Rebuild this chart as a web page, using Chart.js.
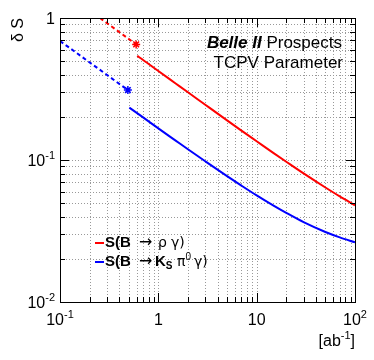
<!DOCTYPE html>
<html><head><meta charset="utf-8">
<script src="https://cdn.jsdelivr.net/npm/chart.js@4/dist/chart.umd.min.js"></script>
<style>html,body{margin:0;padding:0;background:#fff}</style>
</head><body>
<canvas id="c" width="374" height="360"></canvas>
<script>
// ---- data ----
const lumiRho      = [0.61, 0.7, 1, 1.5, 2, 3, 5, 7, 10, 15, 20, 30, 50, 70, 100];
const dSRho        = [0.541, 0.506, 0.423, 0.346, 0.300, 0.245, 0.190, 0.161, 0.1355, 0.1114, 0.0972, 0.0804, 0.0640, 0.0554, 0.048];
const lumiRhoNow   = [0.255, 0.595];
const dSRhoNow     = [1.0, 0.652];

const lumiKs       = [0.507, 0.7, 1, 1.5, 2, 3, 5, 7, 10, 15, 20, 30, 50, 70, 100];
const dSKs         = [0.234, 0.1995, 0.167, 0.137, 0.119, 0.098, 0.077, 0.066, 0.0563, 0.0475, 0.0424, 0.0365, 0.0311, 0.0285, 0.0263];
const lumiKsNow    = [0.1, 0.49];
const dSKsNow      = [0.689, 0.311];

const xMajor       = [0.1, 1, 10, 100];
const xTickLabels  = [['10','-1'], ['1',''], ['10',''], ['10','2']];
const yMajor       = [0.01, 0.1, 1];
const yTickLabels  = [['10','-2'], ['10','-1'], ['1','']];
const xTitle       = ['[ab', '-1', ']'];
const yTitle       = 'δ S';
const titleLine1   = ['Belle II', ' Prospects'];
const titleLine2   = 'TCPV Parameter';

const RED = '#ff0000', BLUE = '#0000ff';

function minorVals(lo, hi){ const out=[]; for(let e=Math.log10(lo); e<Math.log10(hi)-1e-9; e++){ for(let m=1;m<10;m++){ out.push(m*Math.pow(10,e)); } } out.push(hi); return out; }
const xGrid = minorVals(0.1, 100);
const yGrid = minorVals(0.01, 1);
const isMajor = v => Math.abs(Math.log10(v) - Math.round(Math.log10(v))) < 1e-9;

const FONT = '"Liberation Sans", Arial, sans-serif';
const SYM = '"DejaVu Sans", sans-serif';
function drawSup(ctx, base, sup, x, y, align, size){
  ctx.font = size + 'px ' + FONT;
  const wb = ctx.measureText(base).width;
  ctx.font = Math.round(size*0.7) + 'px ' + FONT;
  const ws = sup ? ctx.measureText(sup).width : 0;
  const w = wb + ws;
  let x0 = align === 'center' ? x - w/2 : align === 'right' ? x - w : x;
  ctx.textAlign = 'left'; ctx.textBaseline = 'middle';
  ctx.font = size + 'px ' + FONT;
  ctx.fillText(base, x0, y);
  if (sup){ ctx.font = Math.round(size*0.7) + 'px ' + FONT; ctx.fillText(sup, x0 + wb, y - size*0.4); }
}
function drawParts(ctx, parts, x, y){
  ctx.textAlign='left'; ctx.textBaseline='middle';
  let cx = x;
  parts.forEach(p => { ctx.font = p.f; const px = (p.x !== undefined) ? p.x : cx; ctx.fillText(p.t, px, y + (p.dy||0)); cx = px + ctx.measureText(p.t).width + (p.gap||0); });
  return cx;
}

const rootStyle = {
  id: 'rootStyle',
  beforeDatasetsDraw(chart){
    const {ctx, chartArea:a, scales:{x, y}} = chart;
    ctx.save();
    ctx.strokeStyle = '#999999'; ctx.lineWidth = 1; ctx.setLineDash([1,2]);
    xGrid.forEach(v => { const p = Math.round(x.getPixelForValue(v)) + 0.5; ctx.beginPath(); ctx.moveTo(p, a.top); ctx.lineTo(p, a.bottom); ctx.stroke(); });
    yGrid.forEach(v => { const p = Math.round(y.getPixelForValue(v)) + 0.5; ctx.beginPath(); ctx.moveTo(a.left, p); ctx.lineTo(a.right, p); ctx.stroke(); });
    ctx.restore();
  },
  afterDatasetsDraw(chart){
    const {ctx, chartArea:a, scales:{x, y}} = chart;
    ctx.save();
    ctx.setLineDash([]);
    ctx.strokeStyle = '#000'; ctx.lineWidth = 1;
    ctx.strokeRect(Math.round(a.left)+0.5, Math.round(a.top)+0.5, Math.round(a.right-a.left), Math.round(a.bottom-a.top));
    xGrid.forEach(v => { const p = Math.round(x.getPixelForValue(v)) + 0.5; const L = isMajor(v) ? 9 : 5;
      ctx.beginPath(); ctx.moveTo(p, a.bottom); ctx.lineTo(p, a.bottom - L); ctx.moveTo(p, a.top); ctx.lineTo(p, a.top + L); ctx.stroke(); });
    yGrid.forEach(v => { const p = Math.round(y.getPixelForValue(v)) + 0.5; const L = isMajor(v) ? 9 : 5;
      ctx.beginPath(); ctx.moveTo(a.left, p); ctx.lineTo(a.left + L, p); ctx.moveTo(a.right, p); ctx.lineTo(a.right - L, p); ctx.stroke(); });
    ctx.fillStyle = '#000';
    xMajor.forEach((v,i) => drawSup(ctx, xTickLabels[i][0], xTickLabels[i][1], x.getPixelForValue(v), a.bottom + 19, 'center', 16));
    yMajor.forEach((v,i) => drawSup(ctx, yTickLabels[i][0], yTickLabels[i][1], a.left - 5, y.getPixelForValue(v) + 2, 'right', 16));
    ctx.font = '16px ' + FONT;
    const w1 = ctx.measureText(xTitle[0]).width, w3 = ctx.measureText(xTitle[2]).width;
    ctx.font = '11px ' + FONT; const w2 = ctx.measureText(xTitle[1]).width;
    let xs = a.right - (w1 + w2 + w3);
    drawParts(ctx, [{t:xTitle[0], f:'16px '+FONT}, {t:xTitle[1], f:'11px '+FONT, dy:-6}, {t:xTitle[2], f:'16px '+FONT}], xs, 342);
    ctx.save(); ctx.translate(19, a.top); ctx.rotate(-Math.PI/2);
    ctx.font = '16px ' + FONT; ctx.textAlign = 'right'; ctx.textBaseline = 'middle'; ctx.fillText(yTitle, 0, 0);
    ctx.restore();
    // title
    const TB = 'italic bold 17px ' + FONT, TN = '17px ' + FONT;
    ctx.font = TB; const tw1 = ctx.measureText(titleLine1[0]).width;
    ctx.font = TN; const tw2 = ctx.measureText(titleLine1[1]).width; const tw3 = ctx.measureText(titleLine2).width;
    drawParts(ctx, [{t:titleLine1[0], f:TB}, {t:titleLine1[1], f:TN}], 342 - tw1 - tw2, 43);
    ctx.font = TN; ctx.textAlign = 'left'; ctx.fillText(titleLine2, 343 - tw3, 63);
    // legend
    ctx.lineWidth = 2;
    ctx.strokeStyle = RED; ctx.beginPath(); ctx.moveTo(95, 243); ctx.lineTo(104, 243); ctx.stroke();
    ctx.strokeStyle = BLUE; ctx.beginPath(); ctx.moveTo(95, 262); ctx.lineTo(104, 262); ctx.stroke();
    ctx.fillStyle = '#000';
    const B = 'bold 15px ' + FONT, Bs = 'bold 10px ' + FONT, G = '14px ' + SYM, Gs = '10px ' + FONT, A = '16px ' + SYM;
    drawParts(ctx, [{t:'S(B', f:B, x:105}, {t:'→', f:A, x:139}, {t:'ρ', f:G, x:158}, {t:'γ)', f:G, x:171}], 105, 243);
    drawParts(ctx, [{t:'S(B', f:B, x:105}, {t:'→', f:A, x:139}, {t:'K', f:B, x:155}, {t:'S', f:Bs, dy:4}, {t:'π', f:G, x:177}, {t:'0', f:Gs, dy:-5}, {t:'γ)', f:G, x:194}], 105, 262);
    ctx.restore();
  }
};

const pts = (xs, ys) => xs.map((v,i) => ({x: v, y: ys[i]}));
new Chart(document.getElementById('c'), {
  type: 'line',
  data: { datasets: [
    { label: 'S(B → ρ γ)', data: pts(lumiRho, dSRho), borderColor: RED, borderWidth: 2, pointRadius: 0, cubicInterpolationMode: 'monotone', fill: false },
    { label: 'S(B → ρ γ) now', data: pts(lumiRhoNow, dSRhoNow), borderColor: RED, borderWidth: 2, borderDash: [4,3], pointRadius: [0,4], pointStyle: 'star', pointBorderColor: RED, pointBorderWidth: 1.5, fill: false },
    { label: 'S(B → Ks π0 γ)', data: pts(lumiKs, dSKs), borderColor: BLUE, borderWidth: 2, pointRadius: 0, cubicInterpolationMode: 'monotone', fill: false },
    { label: 'S(B → Ks π0 γ) now', data: pts(lumiKsNow, dSKsNow), borderColor: BLUE, borderWidth: 2, borderDash: [4,3], pointRadius: [0,4], pointStyle: 'star', pointBorderColor: BLUE, pointBorderWidth: 1.5, fill: false }
  ]},
  options: {
    responsive: false, animation: false, devicePixelRatio: 1,
    layout: { padding: { left: 60, right: 19, top: 18, bottom: 58 } },
    plugins: { legend: { display: false }, tooltip: { enabled: false } },
    scales: {
      x: { type: 'logarithmic', min: 0.1, max: 100, display: false },
      y: { type: 'logarithmic', min: 0.01, max: 1, display: false }
    }
  },
  plugins: [rootStyle]
});
</script>
</body></html>
